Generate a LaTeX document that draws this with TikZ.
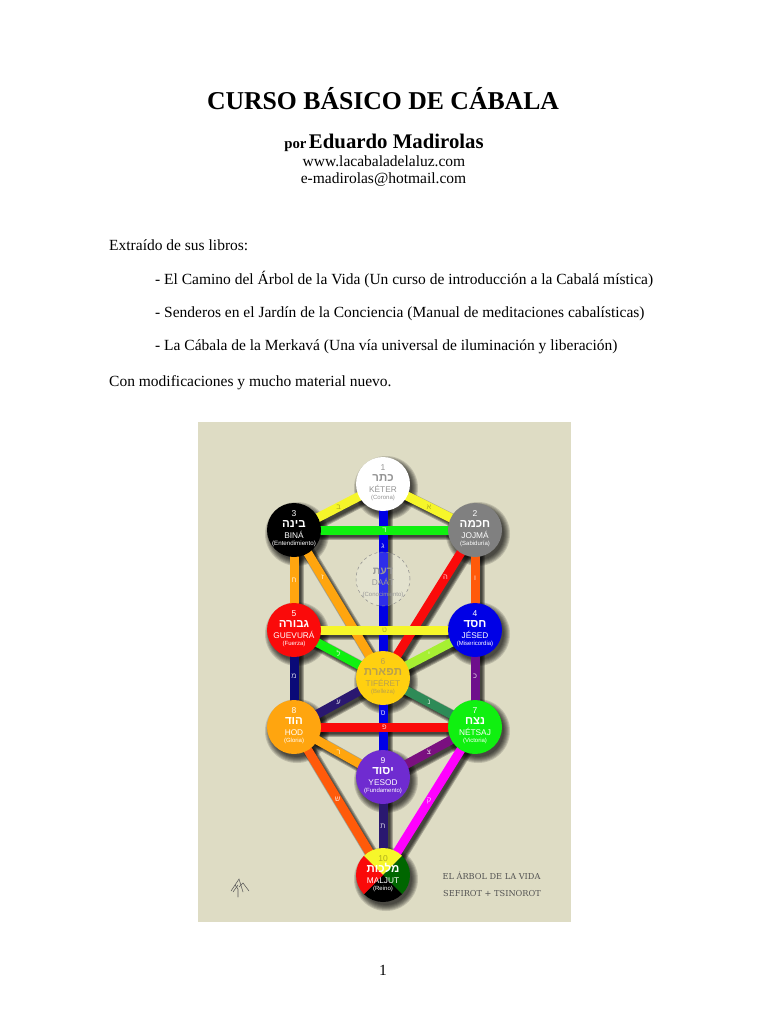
\documentclass[tikz,border=0pt]{standalone}
\usepackage{fontspec}
\setmainfont{Liberation Serif}
\setsansfont{Liberation Sans}
\newfontfamily\hebfont[Script=Hebrew]{Liberation Sans}
\newfontfamily\slabfont{DejaVu Serif}
\TeXXeTstate=1
\usetikzlibrary{calc}
\pgfdeclarelayer{shadowlayer}
\pgfdeclarelayer{linklayer}
\pgfsetlayers{shadowlayer,linklayer,main}
\definecolor{panel}{HTML}{DEDCC4}
\definecolor{cYellow}{HTML}{F6F62A}
\definecolor{cBlue}{HTML}{0000E6}
\definecolor{cGreen}{HTML}{10F010}
\definecolor{cRed}{HTML}{FA0A0A}
\definecolor{cOrangeRed}{HTML}{FF5A0A}
\definecolor{cOrange}{HTML}{FFA50F}
\definecolor{cLime}{HTML}{A6F032}
\definecolor{cPurple}{HTML}{6E0F8C}
\definecolor{cNavy}{HTML}{0A0A78}
\definecolor{cSea}{HTML}{2E8B57}
\definecolor{cIndigo}{HTML}{2A1870}
\definecolor{cViolet}{HTML}{7A1080}
\definecolor{cMagenta}{HTML}{FF00FF}
\definecolor{cGrey}{HTML}{808080}
\definecolor{cGold}{HTML}{FFD010}
\definecolor{cAmber}{HTML}{FFA50F}
\definecolor{cDeep}{HTML}{6F2BD0}
\definecolor{cTan}{HTML}{B8A050}
\tikzset{
  x=1pt,y=-1pt,
  pagetext/.style={anchor=base west,inner sep=0pt,font=\fontsize{15.5}{17}\selectfont},
  centertext/.style={anchor=base,inner sep=0pt,font=\fontsize{15.5}{17}\selectfont},
  sefira/.style={circle,minimum size=54pt,inner sep=0pt,outer sep=0pt},
  sefiratext/.style={align=center,inner sep=0pt,font=\sffamily\fontsize{6}{11}\selectfont},
  pathlabel/.style={inner sep=0pt,font=\hebfont\fontsize{7.5}{8}\selectfont,text opacity=.8},
  logoline/.style={draw=black!65,line width=.55pt,line cap=round},
}
\newcommand{\sefiranode}[9]{%
  % name, position, fill, text colour, number, hebrew, title, subtitle, subtitle size
  \node[sefira,fill=#3] (#1) at (#2) {};
  \node[sefiratext,text=#4] (#1t) at ($(#1.center)+(0,-1)$) {%
    {\fontsize{8.5}{9}\selectfont #5}\\
    {\hebfont\bfseries\fontsize{11.5}{11}\selectfont\beginR #6\endR}\\
    {\fontsize{8.3}{9}\selectfont #7}\\[-4pt]
    {\fontsize{#9}{7}\selectfont (#8)}};
  \begin{pgfonlayer}{shadowlayer}
    \foreach \w in {32,31,30,29,28,27,26}
      \fill[black,opacity=.14] ($(#1.center)+(3,4)$) circle[radius=\w];
  \end{pgfonlayer}
}
\newcommand{\pathlink}[6]{%
  % from, to, colour, pos, letter, letter colour
  \begin{pgfonlayer}{shadowlayer}
    \foreach \w in {13,11,9,7}
      \draw[black,opacity=.25,line width=\w pt] ($(#1.center)+(3.5,3.5)$) -- ($(#2.center)+(3.5,3.5)$);
  \end{pgfonlayer}
  \begin{pgfonlayer}{linklayer}
    \draw[#3,line width=9pt] (#1.center) -- (#2.center)
      node[pathlabel,pos=#4,text=#6] {\beginR #5\endR};
  \end{pgfonlayer}
}
\begin{document}
\begin{tikzpicture}
\useasboundingbox (0,0) rectangle (768,1024);
% panel
\begin{pgfonlayer}{shadowlayer}
  \fill[white] (0,0) rectangle (768,1024);
  \fill[panel] (198,422) rectangle (571,922);
\end{pgfonlayer}
% page text
\node[anchor=base,inner sep=0pt,font=\bfseries\fontsize{25.7}{28}\selectfont] (title) at (383,109.5) {CURSO BÁSICO DE CÁBALA};
\node[anchor=base,inner sep=0pt,font=\bfseries] (author) at (384,149) {{\fontsize{14.8}{16}\selectfont por} {\fontsize{20.8}{22}\selectfont Eduardo Madirolas}};
\node[centertext] (web) at (384,167) {www.lacabaladelaluz.com};
\node[centertext] (mail) at (383.5,184) {e-madirolas@hotmail.com};
\node[pagetext] (intro) at (109,250) {Extraído de sus libros:};
\node[pagetext] (b1) at (155,284) {- El Camino del Árbol de la Vida (Un curso de introducción a la Cabalá mística)};
\node[pagetext] (b2) at (155,317) {- Senderos en el Jardín de la Conciencia (Manual de meditaciones cabalísticas)};
\node[pagetext] (b3) at (155,350) {- La Cábala de la Merkavá (Una vía universal de iluminación y liberación)};
\node[pagetext] (end) at (109,386) {Con modificaciones y mucho material nuevo.};
\node[centertext] (pageno) at (383,975) {1};
% sefirot
\sefiranode{keter}{383,484}{white}{black!42}{1}{כתר}{KÉTER}{Corona}{6}
\sefiranode{bina}{294,530}{black}{white}{3}{בינה}{BINÁ}{Entendimiento}{6.2}
\sefiranode{jojma}{475,530}{cGrey}{white}{2}{חכמה}{JOJMÁ}{Sabiduría}{6}
\sefiranode{guevura}{294,630}{cRed}{white}{5}{גבורה}{GUEVURÁ}{Fuerza}{6}
\sefiranode{jesed}{475,630}{cBlue}{white}{4}{חסד}{JÉSED}{Misericordia}{6}
\sefiranode{tiferet}{383,678}{cGold}{cTan}{6}{תפארת}{TIFÉRET}{Belleza}{6}
\sefiranode{hod}{294,727}{cAmber}{white}{8}{הוד}{HOD}{Gloria}{6}
\sefiranode{netsaj}{475,727}{cGreen}{white}{7}{נצח}{NÉTSAJ}{Victoria}{6}
\sefiranode{yesod}{383,777}{cDeep}{white}{9}{יסוד}{YESOD}{Fundamento}{6}
% maljut
\node[sefira,path picture={
  \fill[cYellow] (path picture bounding box.center) -- ++(-30,-30) -- ++(60,0) -- cycle;
  \fill[green!40!black] (path picture bounding box.center) -- ++(30,-30) -- ++(0,60) -- cycle;
  \fill[black] (path picture bounding box.center) -- ++(30,30) -- ++(-60,0) -- cycle;
  \fill[cRed] (path picture bounding box.center) -- ++(-30,30) -- ++(0,-60) -- cycle;
}] (maljut) at (383,875) {};
\node[sefiratext,text=white] (maljutt) at ($(maljut.center)+(0,-1)$) {%
  {\fontsize{8.5}{9}\selectfont\color{black!30!cYellow} 10}\\
  {\hebfont\bfseries\fontsize{11.5}{11}\selectfont\beginR מלכות\endR}\\
  {\fontsize{8.3}{9}\selectfont MALJUT}\\[-4pt]
  {\fontsize{6}{7}\selectfont (Reino)}};
\begin{pgfonlayer}{shadowlayer}
  \foreach \w in {32,31,30,29,28,27,26}
    \fill[black,opacity=.14] ($(maljut.center)+(3,4)$) circle[radius=\w];
\end{pgfonlayer}
% vertical paths first, crossings on top
\pathlink{keter}{tiferet}{cBlue}{.32}{ג}{white}
\pathlink{tiferet}{yesod}{cBlue}{.36}{ס}{white}
\pathlink{yesod}{maljut}{cIndigo}{.5}{ת}{white}
\pathlink{keter}{bina}{cYellow}{.5}{ב}{black!35!cYellow}
\pathlink{keter}{jojma}{cYellow}{.5}{א}{black!35!cYellow}
\pathlink{bina}{jojma}{cGreen}{.5}{ד}{white}
\pathlink{jojma}{tiferet}{cRed}{.32}{ה}{white}
\pathlink{jojma}{jesed}{cOrangeRed}{.48}{ו}{white}
\pathlink{bina}{guevura}{cOrange}{.5}{ח}{white}
\pathlink{bina}{tiferet}{cOrange}{.32}{ז}{white}
\pathlink{guevura}{jesed}{cYellow}{.5}{ט}{black!35!cYellow}
\pathlink{jesed}{tiferet}{cLime}{.5}{י}{white}
\pathlink{guevura}{tiferet}{cGreen}{.5}{ל}{white}
\pathlink{guevura}{hod}{cNavy}{.48}{מ}{white}
\pathlink{jesed}{netsaj}{cPurple}{.48}{כ}{white}
\pathlink{tiferet}{hod}{cIndigo}{.5}{ע}{white}
\pathlink{tiferet}{netsaj}{cSea}{.5}{נ}{white}
\pathlink{hod}{netsaj}{cRed}{.5}{פ}{white}
\pathlink{hod}{yesod}{cOrange}{.5}{ר}{white}
\pathlink{netsaj}{yesod}{cViolet}{.5}{צ}{white}
\pathlink{hod}{maljut}{cOrangeRed}{.49}{ש}{white}
\pathlink{netsaj}{maljut}{cMagenta}{.5}{ק}{white}
% daat
\node[sefira,draw=black!45,dashed,line width=.5pt,fill=white,fill opacity=.18] (daat) at (383,579) {};
\node[sefiratext,text=black!40] (daatt) at ($(daat.center)+(0,4)$) {%
  {\hebfont\bfseries\fontsize{10.5}{11}\selectfont\beginR דעת\endR}\\
  {\fontsize{8.3}{9}\selectfont DAÁT}\\
  {\fontsize{6}{7}\selectfont (Conocimiento)}};
% caption
\node[anchor=base,inner sep=0pt,text=black!68,font=\slabfont\fontsize{8.2}{9}\selectfont] (cap1) at (491.5,879) {EL ÁRBOL DE LA VIDA};
\node[anchor=base,inner sep=0pt,text=black!68,font=\slabfont\fontsize{8.2}{9}\selectfont] (cap2) at (492,896) {SEFIROT + TSINOROT};
% monogram
\draw[logoline] (231,891) -- (239,879) -- (243,892);
\draw[logoline] (235,885) -- (238,889) -- (238,897);
\draw[logoline] (239,887) -- (243,883) -- (249,891);
\draw[logoline] (233,892) -- (238,885);
\end{tikzpicture}
\end{document}
